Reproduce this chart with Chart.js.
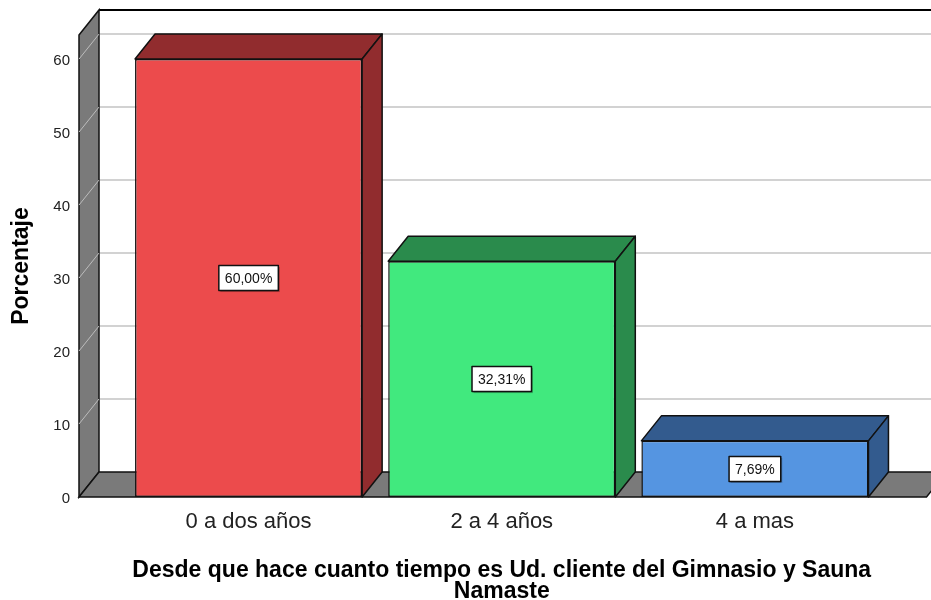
<!DOCTYPE html>
<html lang="es">
<head>
<meta charset="UTF-8">
<title>Porcentaje</title>
<script src="https://cdn.jsdelivr.net/npm/chart.js"></script>
<style>
  html, body { margin: 0; padding: 0; background: #fff; }
</style>
</head>
<body>
<canvas id="myChart" width="931" height="600"></canvas>

<script>
// datos del grafico
const categorias = ['0 a dos años', '2 a 4 años', '4 a mas'];
const porcentajes = [60.00, 32.31, 7.69];
const ticksY = [0, 10, 20, 30, 40, 50, 60];
const maxY = 63.3;

const coresFrente = ['#ec4b4c', '#41e97e', '#5595e1'];
const coresLado = ['#912c2e', '#2a8b4c', '#335b8e'];

// profundidad del efecto 3D
const PROF_X = 20;
const PROF_Y = 25;

function formatoPct(v) {
    return v.toFixed(2).replace('.', ',') + '%';
}

const cena3d = {
    id: 'cena3d',
    beforeDatasetsDraw(chart) {
        const ctx = chart.ctx;
        const area = chart.chartArea;
        const y = chart.scales.y;
        const esq = area.left - 43;
        const dir = area.right + 45;
        const y0 = y.getPixelForValue(0);
        const yTop = area.top;

        ctx.save();
        // pared del fondo: lineas de grilla
        ctx.strokeStyle = '#d2d2d2';
        ctx.lineWidth = 2;
        ticksY.forEach(v => {
            if (v === 0) return;
            const py = y.getPixelForValue(v);
            ctx.beginPath();
            ctx.moveTo(esq + PROF_X, py - PROF_Y);
            ctx.lineTo(dir + PROF_X, py - PROF_Y);
            ctx.stroke();
        });
        // borde superior
        ctx.strokeStyle = '#000';
        ctx.lineWidth = 2;
        ctx.beginPath();
        ctx.moveTo(esq + PROF_X, yTop - PROF_Y);
        ctx.lineTo(dir + PROF_X, yTop - PROF_Y);
        ctx.stroke();

        // pared izquierda
        ctx.fillStyle = '#7a7a7a';
        ctx.strokeStyle = '#111';
        ctx.lineWidth = 1.5;
        ctx.beginPath();
        ctx.moveTo(esq, yTop);
        ctx.lineTo(esq + PROF_X, yTop - PROF_Y);
        ctx.lineTo(esq + PROF_X, y0 - PROF_Y);
        ctx.lineTo(esq, y0);
        ctx.closePath();
        ctx.fill();
        ctx.stroke();

        ctx.strokeStyle = '#bdbdbd';
        ctx.lineWidth = 1;
        ticksY.forEach(v => {
            if (v === 0) return;
            const py = y.getPixelForValue(v);
            ctx.beginPath();
            ctx.moveTo(esq, py);
            ctx.lineTo(esq + PROF_X, py - PROF_Y);
            ctx.stroke();
        });

        // piso
        ctx.fillStyle = '#7a7a7a';
        ctx.strokeStyle = '#111';
        ctx.lineWidth = 1.5;
        ctx.beginPath();
        ctx.moveTo(esq, y0);
        ctx.lineTo(esq + PROF_X, y0 - PROF_Y);
        ctx.lineTo(dir + PROF_X, y0 - PROF_Y);
        ctx.lineTo(dir, y0);
        ctx.closePath();
        ctx.fill();
        ctx.stroke();
        ctx.restore();
    },
    afterDatasetsDraw(chart) {
        const ctx = chart.ctx;
        const y = chart.scales.y;
        const meta = chart.getDatasetMeta(0);
        ctx.save();
        ctx.lineJoin = 'round';
        meta.data.forEach((bar, i) => {
            const l = bar.x - bar.width / 2;
            const r = bar.x + bar.width / 2;
            ctx.fillStyle = coresLado[i];
            ctx.strokeStyle = '#111';
            ctx.lineWidth = 1.5;
            // cara superior
            ctx.beginPath();
            ctx.moveTo(l, bar.y);
            ctx.lineTo(l + PROF_X, bar.y - PROF_Y);
            ctx.lineTo(r + PROF_X, bar.y - PROF_Y);
            ctx.lineTo(r, bar.y);
            ctx.closePath();
            ctx.fill();
            ctx.stroke();
            // cara lateral
            ctx.beginPath();
            ctx.moveTo(r, bar.y);
            ctx.lineTo(r + PROF_X, bar.y - PROF_Y);
            ctx.lineTo(r + PROF_X, bar.base - PROF_Y);
            ctx.lineTo(r, bar.base);
            ctx.closePath();
            ctx.fill();
            ctx.stroke();

            // etiqueta
            const txt = formatoPct(porcentajes[i]);
            const cy = y.getPixelForValue(porcentajes[i] / 2);
            ctx.font = '14px Arial, "Liberation Sans", sans-serif';
            const w = ctx.measureText(txt).width + 12;
            const h = 25;
            ctx.fillStyle = 'rgba(0,0,0,0.25)';
            ctx.fillRect(bar.x - w / 2 + 1.5, cy - h / 2 + 1.5, w, h);
            ctx.fillStyle = '#fff';
            ctx.fillRect(bar.x - w / 2, cy - h / 2, w, h);
            ctx.strokeStyle = '#111';
            ctx.lineWidth = 1.5;
            ctx.strokeRect(bar.x - w / 2, cy - h / 2, w, h);
            ctx.fillStyle = '#111';
            ctx.textAlign = 'center';
            ctx.textBaseline = 'middle';
            ctx.fillText(txt, bar.x, cy + 1);
        });
        ctx.restore();
    }
};

const dados = {
    labels: categorias,
    datasets: [{
        label: 'Porcentaje',
        data: porcentajes,
        backgroundColor: coresFrente,
        borderColor: '#111',
        borderWidth: 1.5,
        borderSkipped: false,
        barPercentage: 0.897,
        categoryPercentage: 1
    }]
};

const config = {
    type: 'bar',
    data: dados,
    plugins: [cena3d],
    options: {
        responsive: false,
        animation: false,
        layout: { padding: { top: 35, right: 49.5, bottom: 0, left: 0 } },
        plugins: {
            legend: { display: false },
            tooltip: { enabled: false }
        },
        scales: {
            x: {
                grid: { display: false, drawTicks: false },
                border: { display: false },
                ticks: {
                    color: '#222',
                    padding: 12,
                    maxRotation: 0,
                    autoSkip: false,
                    font: { family: 'Arial, "Liberation Sans"', size: 22 }
                },
                title: {
                    display: true,
                    text: ['Desde que hace cuanto tiempo es Ud. cliente del Gimnasio y Sauna', 'Namaste'],
                    color: '#000',
                    padding: { top: 0, bottom: -2 },
                    font: { family: 'Arial, "Liberation Sans"', size: 23, weight: 'bold', lineHeight: 0.9 }
                },
                afterFit: (scale) => {
                    scale.height = 103;
                    scale.paddingLeft = 0;
                    scale.paddingRight = 0;
                }
            },
            y: {
                min: 0,
                max: maxY,
                grid: { display: false, drawTicks: false },
                border: { display: false },
                afterBuildTicks: (scale) => { scale.ticks = ticksY.map(v => ({ value: v })); },
                ticks: {
                    color: '#222',
                    padding: 52,
                    labelOffset: 2,
                    font: { family: 'Arial, "Liberation Sans"', size: 15 }
                },
                title: {
                    display: true,
                    text: 'Porcentaje',
                    color: '#000',
                    padding: { top: 8, bottom: 0 },
                    font: { family: 'Arial, "Liberation Sans"', size: 23, weight: 'bold' }
                },
                afterFit: (scale) => {
                    scale.width = 122;
                    scale.paddingTop = 0;
                    scale.paddingBottom = 0;
                }
            }
        }
    }
};

let myChart = new Chart(document.getElementById('myChart'), config);
</script>
</body>
</html>
